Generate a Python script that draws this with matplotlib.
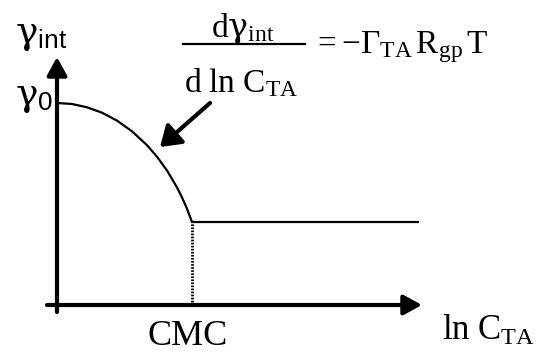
import matplotlib
matplotlib.use('Agg')
import matplotlib.pyplot as plt
from matplotlib.patches import FancyArrowPatch

plt.rcParams['mathtext.fontset'] = 'custom'
plt.rcParams['mathtext.rm'] = 'Liberation Serif'
plt.rcParams['mathtext.it'] = 'Liberation Serif:italic'
plt.rcParams['mathtext.sf'] = 'Liberation Sans'
plt.rcParams['mathtext.cal'] = 'DejaVu Serif'
plt.rcParams['font.family'] = ['Liberation Serif', 'DejaVu Sans']

# surface tension curve (schematic)
curve_x = [0, 15, 30, 45, 60, 75, 90, 100, 110, 120, 125, 130, 135]
curve_y = [202, 201, 197.7, 192.3, 184.4, 173.7, 159.8, 148.3, 134.5, 117.6, 107.6, 96.3, 83]
cmc_x = 135
plateau_x = [135, 361]
plateau_y = [83, 83]

fig = plt.figure(figsize=(5.39, 3.54), dpi=100)
ax = fig.add_axes([0, 0, 1, 1])
ax.set_xlim(-57, 482)
ax.set_ylim(-49, 305)
ax.axis('off')

# axes with arrow heads
for start, tip in [((0, -7), (0, 248)), ((-10, 0), (365, 0))]:
    ax.add_patch(FancyArrowPatch(start, tip, arrowstyle='-|>,head_length=0.55,head_width=0.3',
                                 mutation_scale=20, lw=3, color='black',
                                 shrinkA=0, shrinkB=0))

# curve, plateau and CMC marker
ax.plot(curve_x, curve_y, color='black', lw=1.6, solid_capstyle='butt')
ax.plot(plateau_x, plateau_y, color='black', lw=1.6)
ax.plot([cmc_x, cmc_x], [0, plateau_y[0]], color='black', lw=2, linestyle=(0, (0.6, 0.5)))

# pointer arrow
ax.add_patch(FancyArrowPatch((153, 202), (103, 158), arrowstyle='-|>,head_length=0.6,head_width=0.4',
                             mutation_scale=20, lw=3, color='black', shrinkA=0, shrinkB=0))

# labels
ax.text(-42, 262, r'$\mathcal{\gamma}_{\mathsf{int}}$', fontsize=27, ha='left', va='baseline')
ax.text(-42, 200, r'$\mathcal{\gamma}_{\mathsf{0}}$', fontsize=27, ha='left', va='baseline')
ax.text(131, -40, 'CMC', fontsize=26, ha='center', va='baseline')
ax.text(385, -35, r'$\mathrm{ln\ C_{TA}}$', fontsize=25, ha='left', va='baseline')

# formula
ax.text(186, 268, r'$\mathrm{d}\mathcal{\gamma}_{\mathrm{int}}$', fontsize=24, ha='center', va='baseline')
ax.plot([126, 248], [261, 261], color='black', lw=1.6)
ax.text(184, 213, r'$\mathrm{d\ ln\ C_{TA}}$', fontsize=24, ha='center', va='baseline')
ax.text(256, 252, r'$= -\Gamma_{\mathrm{TA}}\,\mathrm{R_{gp}\,T}$', fontsize=24, ha='left', va='baseline')

fig.savefig('out.png', dpi=100)
